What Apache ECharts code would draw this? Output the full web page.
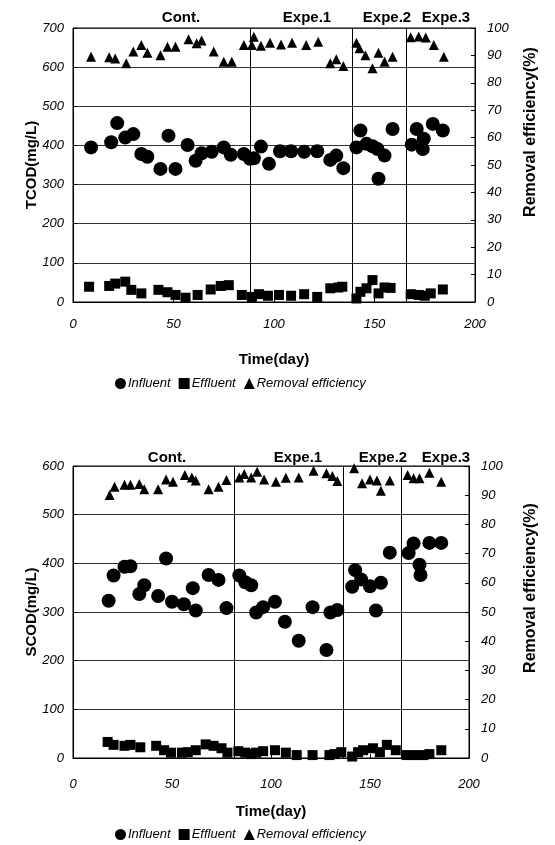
<!DOCTYPE html>
<html>
<head>
<meta charset="utf-8">
<script src="https://cdn.jsdelivr.net/npm/echarts@6/dist/echarts.min.js"></script>
<style>
  html, body { margin: 0; padding: 0; background: #fff; }
  #main { width: 555px; height: 845px; }
</style>
</head>
<body>
<div id="main"></div>
<script>
// ---- TCOD (top panel) ----
var tcodDayIn = [9, 19, 22, 26, 30, 34, 37, 43.5, 47.5, 51, 57, 61, 64, 69, 75, 78.5, 85, 88, 90, 93.5, 97.5, 103, 108.5, 115, 121.5, 128, 131, 134.5, 141, 143, 146, 149, 151.5, 152, 155, 159, 168.5, 171, 174, 174.5, 179, 184];
var tcodIn = [395, 408, 457, 420, 429, 378, 371, 340, 425, 340, 401, 361, 380, 384, 395, 376, 378, 366, 367, 397, 353, 385, 385, 384, 385, 363, 374, 342, 395, 438, 404, 398, 391, 315, 374, 442, 402, 442, 391, 417, 455, 438];
var tcodDayEff = [8, 18, 21, 26, 29, 34, 42.5, 47, 51, 56, 62, 68.5, 73.5, 77.5, 84, 89, 92.5, 97, 102.5, 108.5, 115, 121.5, 128, 132, 134, 141, 143, 146, 149, 152, 155, 158, 168, 172, 175, 178, 184];
var tcodEff = [39, 41, 47, 52, 31, 22, 31, 25, 18, 11, 18, 32, 41, 43, 18, 13, 20, 16, 18, 16, 20, 13, 35, 37, 39, 9, 26, 35, 56, 22, 37, 36, 20, 18, 16, 22, 32];
var tcodDayRem = [9, 18, 21, 26.5, 30, 34, 37, 43.5, 47, 51, 57.5, 61.5, 64, 70, 75, 79, 85, 89, 90, 93.5, 98, 103.5, 109, 116, 122, 128, 131, 134.5, 141, 142.5, 145.5, 149, 152, 155, 159, 168, 172, 175.5, 179.5, 184.5];
var tcodRem = [89.5, 89.3, 88.9, 87.1, 91.4, 93.8, 91, 90.1, 93.2, 93.2, 95.9, 94.4, 95.4, 91.4, 87.7, 87.7, 93.8, 93.8, 96.8, 93.5, 94.6, 94, 94.6, 93.8, 95, 87.1, 88.6, 86.1, 94.6, 92.6, 90.1, 85.3, 91, 87.7, 89.5, 96.6, 96.9, 96.5, 93.8, 89.5];
var tcodDividers = [88, 139, 166];

// ---- SCOD (bottom panel) ----
var scodDayIn = [18, 20.5, 26, 29, 33.5, 36, 43, 47, 50, 56, 60.5, 62, 68.5, 73.5, 77.5, 84, 87, 90, 92.5, 96, 102, 107, 114, 121, 128, 130, 133.5, 141, 142.5, 145.5, 150, 153, 155.5, 160, 169.5, 172, 175, 175.5, 180, 186];
var scodIn = [323, 375, 393, 394, 337, 355, 333, 410, 321, 316, 349, 303, 376, 366, 308, 375, 361, 355, 299, 310, 321, 280, 241, 310, 222, 299, 304, 352, 386, 367, 353, 303, 360, 422, 421, 441, 397, 376, 442, 442];
var scodDayEff = [17.5, 20.5, 26, 29, 34, 42, 46, 49.5, 55, 58, 62, 67, 71, 75, 78, 83.5, 87, 90, 92.5, 96, 102, 107.5, 113, 121, 129.5, 132, 135.5, 141, 144, 146.5, 151.5, 155, 158.5, 163, 168.5, 173, 177, 180, 186];
var scodEff = [33, 27, 25, 27, 22, 25, 16, 11, 11, 12, 16, 28, 25, 20, 11, 14, 11, 8, 11, 14, 16, 11, 6, 6, 6, 8, 12, 3, 12, 16, 20, 12, 27, 16, 6, 6, 6, 8, 16];
var scodDayRem = [18.5, 21, 26, 29, 33.5, 36, 43, 47, 50.5, 56.5, 60, 62, 68.5, 73.5, 77.5, 84, 86.5, 90, 93, 96.5, 102.5, 107.5, 114, 121.5, 128, 131, 133.5, 142, 146, 150, 153.5, 155.5, 160, 169, 172, 175, 180, 186];
var scodRem = [90.1, 92.9, 93.6, 93.6, 93.8, 92, 92, 95.4, 94.6, 96.9, 96.1, 95, 92, 92.9, 95.2, 96.1, 97.3, 96.1, 98, 95.4, 94.6, 96, 96.1, 98.4, 97.5, 96.6, 94.9, 99.2, 94.1, 95.4, 95, 91.5, 95, 96.9, 95.8, 95.8, 97.7, 94.6];
var scodDividers = [81.5, 136.5, 166];

var periodNames = ["Cont.", "Expe.1", "Expe.2", "Expe.3"];
var seriesNames = ["Influent", "Effluent", "Removal efficiency"];

function pairs(xs, ys) {
  return xs.map(function (x, i) { return [x, ys[i]]; });
}

var FONT = "Liberation Sans";

function xAxisFor(grid, labelMargin, nameGap) {
  return {
    gridIndex: grid,
    type: "value",
    min: 0,
    max: 200,
    interval: 50,
    name: "Time(day)",
    nameLocation: "middle",
    nameGap: nameGap,
    nameTextStyle: { fontFamily: FONT, fontWeight: "bold", fontSize: 15, color: "#000" },
    axisLine: { show: true, lineStyle: { color: "#000", width: 1 } },
    axisTick: { show: true, inside: true, length: 4, lineStyle: { color: "#000" } },
    axisLabel: { fontFamily: FONT, fontStyle: "italic", fontSize: 13, color: "#000", margin: labelMargin },
    splitLine: { show: false },
  };
}

function leftAxis(grid, max, name) {
  return {
    gridIndex: grid,
    type: "value",
    position: "left",
    min: 0,
    max: max,
    interval: 100,
    name: name,
    nameLocation: "middle",
    nameGap: 34,
    nameMoveOverlap: false,
    nameTextStyle: { fontFamily: FONT, fontWeight: "bold", fontSize: 15, color: "#000" },
    axisLine: { show: true, lineStyle: { color: "#000", width: 1 } },
    axisTick: { show: true, inside: true, length: 4, lineStyle: { color: "#000" } },
    axisLabel: { fontFamily: FONT, fontStyle: "italic", fontSize: 13, color: "#000", margin: 9 },
    splitLine: { show: true, lineStyle: { color: "#333", width: 1 } },
  };
}

function rightAxis(grid) {
  return {
    gridIndex: grid,
    type: "value",
    position: "right",
    min: 0,
    max: 100,
    interval: 10,
    axisLine: { show: true, lineStyle: { color: "#000", width: 1 } },
    axisTick: { show: true, inside: true, length: 4, lineStyle: { color: "#000" } },
    axisLabel: { fontFamily: FONT, fontStyle: "italic", fontSize: 13, color: "#000", margin: 12 },
    splitLine: { show: false },
  };
}

function panelSeries(xi, yl, yr, dIn, vIn, dEff, vEff, dRem, vRem, dividers) {
  return [
    {
      name: seriesNames[0],
      type: "scatter",
      xAxisIndex: xi,
      yAxisIndex: yl,
      symbol: "circle",
      symbolSize: 14,
      itemStyle: { color: "#000", opacity: 1 },
      data: pairs(dIn, vIn),
      markLine: {
        silent: true,
        symbol: "none",
        label: { show: false },
        lineStyle: { color: "#000", width: 1, type: "solid" },
        data: dividers.map(function (d) { return { xAxis: d }; }),
      },
      z: 3,
    },
    {
      name: seriesNames[1],
      type: "scatter",
      xAxisIndex: xi,
      yAxisIndex: yl,
      symbol: "rect",
      symbolSize: 10,
      itemStyle: { color: "#000", opacity: 1 },
      data: pairs(dEff, vEff),
      z: 3,
    },
    {
      name: seriesNames[2],
      type: "scatter",
      xAxisIndex: xi,
      yAxisIndex: yr,
      symbol: "triangle",
      symbolSize: 10,
      itemStyle: { color: "#000", opacity: 1 },
      data: pairs(dRem, vRem),
      z: 3,
    },
  ];
}

function periodTitles(xs, top) {
  return periodNames.map(function (t, i) {
    return {
      text: t,
      left: xs[i],
      top: top,
      textAlign: "center",
      textStyle: { fontFamily: FONT, fontWeight: "bold", fontSize: 15, color: "#000" },
    };
  });
}

function legendFor(top) {
  return {
    top: top,
    left: 110,
    itemWidth: 11,
    itemHeight: 11,
    itemGap: 8,
    textStyle: { fontFamily: FONT, fontStyle: "italic", fontSize: 13, color: "#000", padding: [0, 0, 0, -3] },
    data: [
      { name: seriesNames[0], icon: "circle" },
      { name: seriesNames[1], icon: "rect" },
      { name: seriesNames[2], icon: "triangle" },
    ],
  };
}

var chart = echarts.init(document.getElementById("main"));
var options = {
  animation: false,
  backgroundColor: "#fff",
  title: periodTitles([176, 302, 382, 441], 5).concat(periodTitles([162, 293, 378, 441], 445)),
  legend: [legendFor(372), legendFor(823)],
  grid: [
    { left: 73, right: 80, top: 28, height: 274, show: true, borderColor: "#000", borderWidth: 1, containLabel: false },
    { left: 73, right: 86, top: 466, height: 292, show: true, borderColor: "#000", borderWidth: 1, containLabel: false },
  ],
  xAxis: [xAxisFor(0, 16, 50), xAxisFor(1, 20, 46)],
  yAxis: [leftAxis(0, 700, "TCOD(mg/L)"), rightAxis(0), leftAxis(1, 600, "SCOD(mg/L)"), rightAxis(1)],
  series: panelSeries(0, 0, 1, tcodDayIn, tcodIn, tcodDayEff, tcodEff, tcodDayRem, tcodRem, tcodDividers)
    .concat(panelSeries(1, 2, 3, scodDayIn, scodIn, scodDayEff, scodEff, scodDayRem, scodRem, scodDividers)),
  graphic: [
    {
      type: "text",
      x: 531,
      y: 132,
      rotation: Math.PI / 2,
      style: { text: "Removal efficiency(%)", font: "bold 16px Liberation Sans", fill: "#000", textAlign: "center", textVerticalAlign: "middle" },
    },
    {
      type: "text",
      x: 531,
      y: 588,
      rotation: Math.PI / 2,
      style: { text: "Removal efficiency(%)", font: "bold 16px Liberation Sans", fill: "#000", textAlign: "center", textVerticalAlign: "middle" },
    },
  ],
};
chart.setOption(options, true);
</script>
</body>
</html>
